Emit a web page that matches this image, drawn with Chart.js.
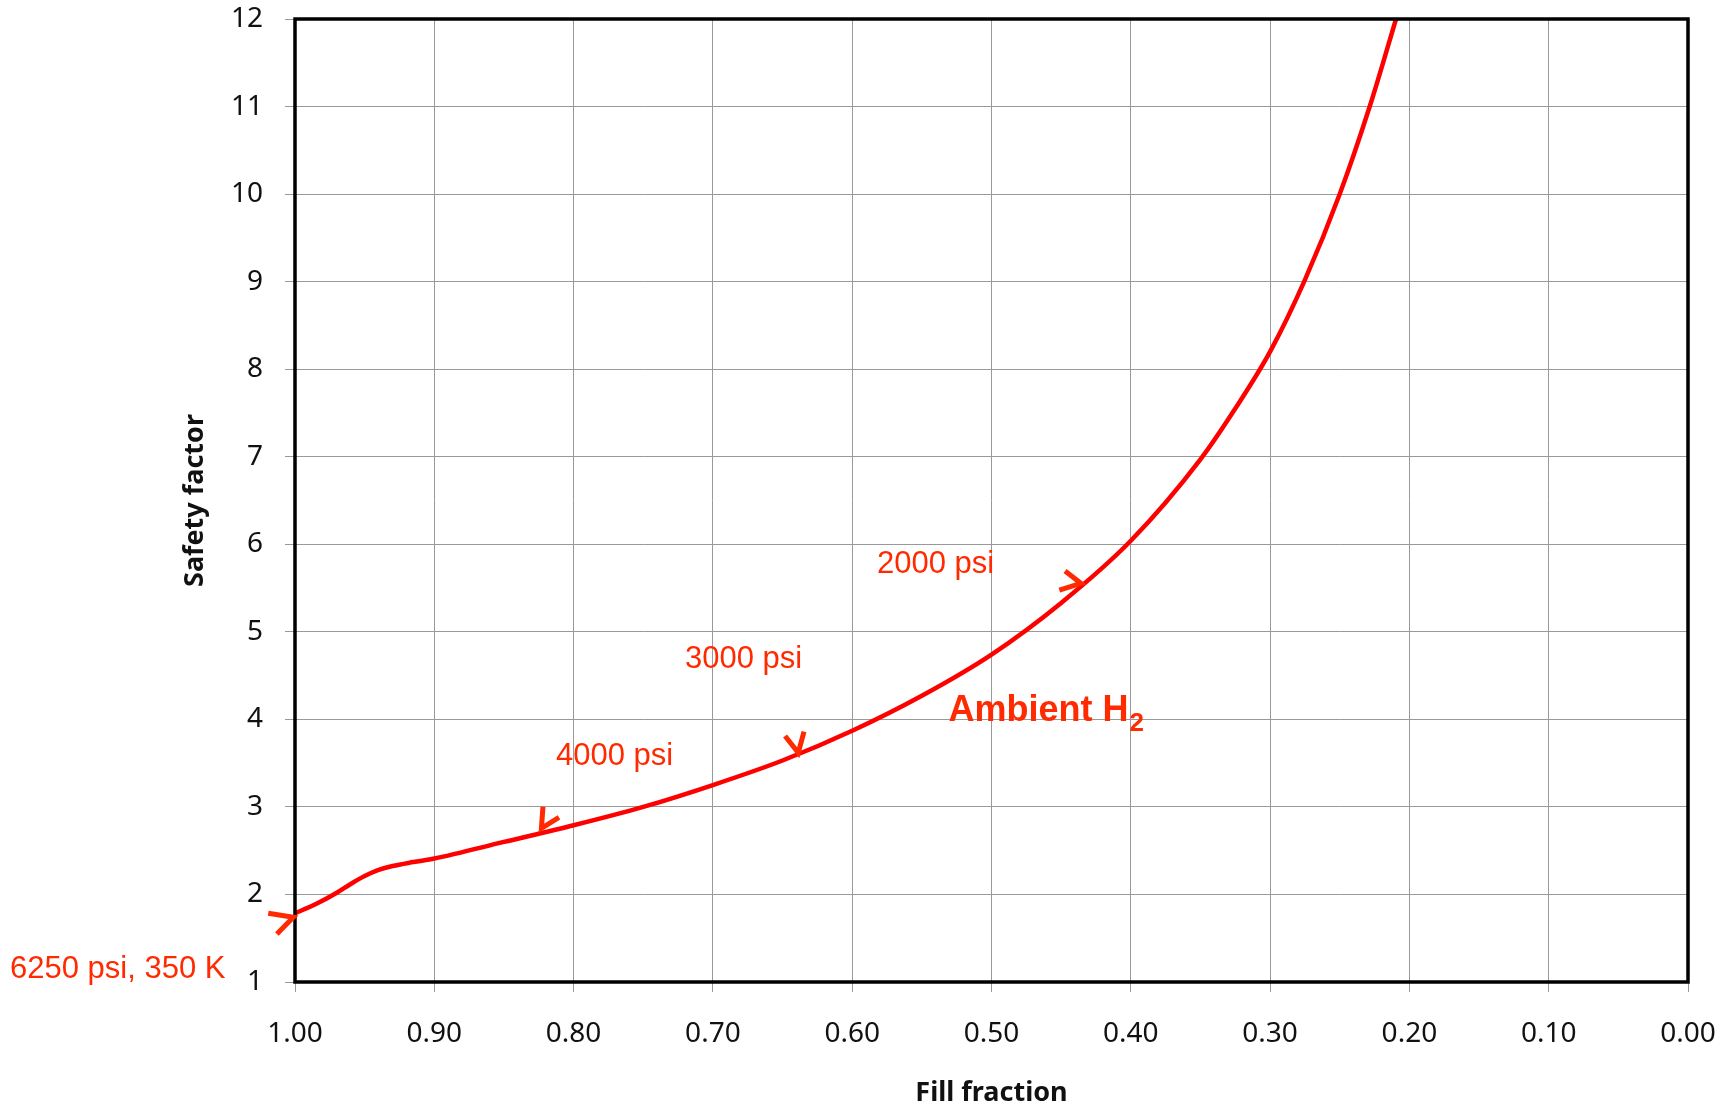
<!DOCTYPE html>
<html>
<head>
<meta charset="utf-8">
<script src="https://cdn.jsdelivr.net/npm/chart.js@4.4.0/dist/chart.umd.min.js"></script>
<style>
  html, body { margin: 0; padding: 0; background: #fff; }
  #wrap { width: 1728px; height: 1104px; position: relative; }
</style>
</head>
<body>
<div id="wrap"><canvas id="chart" width="1728" height="1104"></canvas></div>
<script>
// values
const fillFraction = [1.000, 0.985, 0.970, 0.960, 0.950, 0.940, 0.930, 0.915, 0.900, 0.850, 0.800, 0.750, 0.700, 0.650, 0.600, 0.550, 0.500, 0.450, 0.400, 0.350, 0.325, 0.300, 0.275, 0.250, 0.2285, 0.2096];
const safetyFactor = [1.785, 1.89, 2.02, 2.12, 2.21, 2.28, 2.325, 2.37, 2.41, 2.60, 2.79, 3.00, 3.25, 3.53, 3.87, 4.27, 4.74, 5.33, 6.04, 6.97, 7.55, 8.20, 9.02, 10.0, 11.0, 12.0];
const xTicks = [0, 0.1, 0.2, 0.3, 0.4, 0.5, 0.6, 0.7, 0.8, 0.9, 1.0];
const yTicks = [1, 2, 3, 4, 5, 6, 7, 8, 9, 10, 11, 12];
const noteTexts = ['6250 psi, 350 K', '4000 psi', '3000 psi', '2000 psi'];

const noteColor = '#ff2a00';

// text notes in data coordinates (left edge, baseline)
const notes = [
  { text: noteTexts[0], x: 1.2046, y: 1.042 },
  { text: noteTexts[1], x: 0.8126, y: 3.482 },
  { text: noteTexts[2], x: 0.720, y: 4.587 },
  { text: noteTexts[3], x: 0.5822, y: 5.676 }
];

// little arrow heads: arm, tip, arm
const chevrons = [
  [[1.0192, 1.785], [1.0012, 1.74], [1.013, 1.548]],
  [[0.8220, 3.002], [0.8231, 2.755], [0.8105, 2.881]],
  [[0.6482, 3.810], [0.6387, 3.619], [0.6346, 3.859]],
  [[0.4472, 5.694], [0.4358, 5.554], [0.4513, 5.477]]
];

const notesPlugin = {
  id: 'notes',
  afterDraw(chart) {
    const {ctx, chartArea, scales: {x, y}} = chart;
    ctx.save();

    // plot frame
    ctx.strokeStyle = '#000';
    ctx.lineWidth = 3.5;
    ctx.strokeRect(chartArea.left, chartArea.top, chartArea.right - chartArea.left, chartArea.bottom - chartArea.top);

    ctx.fillStyle = noteColor;
    ctx.textBaseline = 'alphabetic';
    ctx.textAlign = 'left';
    ctx.font = '31px "Liberation Sans", Arial, sans-serif';
    notes.forEach(n => {
      ctx.fillText(n.text, x.getPixelForValue(n.x), y.getPixelForValue(n.y));
    });

    // Ambient H2
    const ax = x.getPixelForValue(0.5308);
    const ay = y.getPixelForValue(3.978);
    ctx.font = 'bold 36px "Liberation Sans", Arial, sans-serif';
    ctx.fillText('Ambient H', ax, ay);
    const w = ctx.measureText('Ambient H').width;
    ctx.font = 'bold 26px "Liberation Sans", Arial, sans-serif';
    ctx.fillText('2', ax + w + 1, ay + 10);

    ctx.strokeStyle = noteColor;
    ctx.lineWidth = 5;
    ctx.lineJoin = 'miter';
    chevrons.forEach(c => {
      ctx.beginPath();
      c.forEach((p, i) => {
        const px = x.getPixelForValue(p[0]);
        const py = y.getPixelForValue(p[1]);
        if (i === 0) ctx.moveTo(px, py); else ctx.lineTo(px, py);
      });
      ctx.stroke();
    });
    ctx.restore();
  }
};

new Chart(document.getElementById('chart'), {
  type: 'scatter',
  data: {
    datasets: [{
      label: 'Ambient H2',
      data: fillFraction.map((v, i) => ({ x: v, y: safetyFactor[i] })),
      showLine: true,
      borderColor: '#ff0000',
      borderWidth: 4.5,
      pointRadius: 0,
      cubicInterpolationMode: 'monotone'
    }]
  },
  options: {
    responsive: false,
    animation: false,
    layout: { padding: { top: 19, right: 40, bottom: 0, left: 0 } },
    plugins: { legend: { display: false }, tooltip: { enabled: false } },
    scales: {
      x: {
        type: 'linear',
        reverse: true,
        min: 0,
        max: 1,
        afterBuildTicks: s => { s.ticks = xTicks.map(v => ({ value: v })); },
        afterFit: s => { s.height = 122; s.paddingLeft = 0; s.paddingRight = 0; },
        border: { display: false },
        grid: { color: '#999', lineWidth: 1, tickLength: 10, tickColor: '#999' },
        ticks: {
          color: '#111',
          padding: 25,
          maxRotation: 0,
          font: { family: '"Noto Sans"', size: 28 },
          callback: v => v.toFixed(2)
        },
        title: {
          display: true,
          text: 'Fill fraction',
          color: '#111',
          padding: { top: 0, bottom: 0 },
          font: { family: '"Noto Sans"', size: 27, weight: 'bold', lineHeight: 0.815 }
        }
      },
      y: {
        type: 'linear',
        min: 1,
        max: 12,
        afterBuildTicks: s => { s.ticks = yTicks.map(v => ({ value: v })); },
        afterFit: s => { s.width = 295; s.paddingTop = 0; s.paddingBottom = 0; },
        border: { display: false },
        grid: { color: '#999', lineWidth: 1, tickLength: 10, tickColor: '#999' },
        ticks: {
          color: '#111',
          padding: 22,
          font: { family: '"Noto Sans"', size: 28 }
        },
        title: {
          display: true,
          text: 'Safety factor',
          color: '#111',
          padding: { top: 182, bottom: 0 },
          font: { family: '"Noto Sans"', size: 27, weight: 'bold', lineHeight: 1 }
        }
      }
    }
  },
  plugins: [notesPlugin]
});
</script>
</body>
</html>
